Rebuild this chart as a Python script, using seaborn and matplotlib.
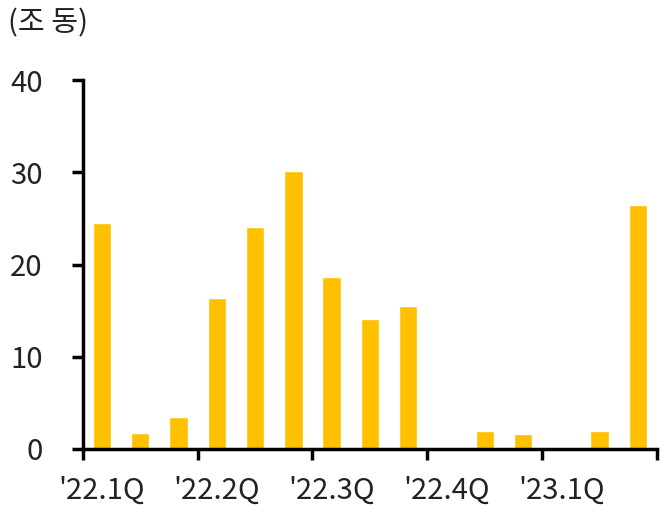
import matplotlib
matplotlib.use("Agg")
import matplotlib.pyplot as plt
import seaborn as sns
import numpy as np

months = ['22.01', '22.02', '22.03', '22.04', '22.05', '22.06', '22.07', '22.08',
          '22.09', '22.10', '22.11', '22.12', '23.01', '23.02', '23.03']
values = [24.5, 1.7, 3.5, 16.4, 24.1, 30.1, 18.6, 14.1, 15.5, 0.0, 1.9, 1.6, 0.0, 1.9, 26.4]
quarter_labels = ["'22.1Q", "'22.2Q", "'22.3Q", "'22.4Q", "'23.1Q"]
y_ticks = [0, 10, 20, 30, 40]

sns.set_theme(style='white')
plt.rcParams['font.family'] = ['Noto Sans CJK KR', 'DejaVu Sans']
plt.rcParams['font.weight'] = 'light'

fig = plt.figure(figsize=(6.68, 5.13), dpi=100)
ax = fig.add_axes([0.124, 0.1248, 0.8595, 0.7192])

sns.barplot(x=months, y=values, color='#FFC000', saturation=1, width=0.48, ax=ax)

ax.set_xlim(-0.5, len(months) - 0.5)
ax.set_ylim(0, 40)
ax.set_yticks(y_ticks)
ax.set_xticks(np.arange(0, len(months), 3))
ax.set_xticklabels(quarter_labels)
ax.set_xticks(np.arange(-0.5, len(months), 3), minor=True)
ax.set_xlabel('')
ax.set_ylabel('')

for side in ['top', 'right']:
    ax.spines[side].set_visible(False)
for side in ['left', 'bottom']:
    ax.spines[side].set_linewidth(2.5)
    ax.spines[side].set_color('black')

ax.tick_params(axis='x', which='major', length=0, pad=19, labelsize=21, labelcolor='#222222')
ax.tick_params(axis='x', which='minor', length=8, width=2.5, color='black', direction='out', bottom=True)
ax.tick_params(axis='y', length=8, width=2.5, color='black', direction='out', left=True,
               pad=21, labelsize=21, labelcolor='#222222')

fig.text(0.012, 0.955, '(조 동)', fontsize=21, va='center', ha='left', color='#222222')

fig.savefig('out.png', dpi=100)
